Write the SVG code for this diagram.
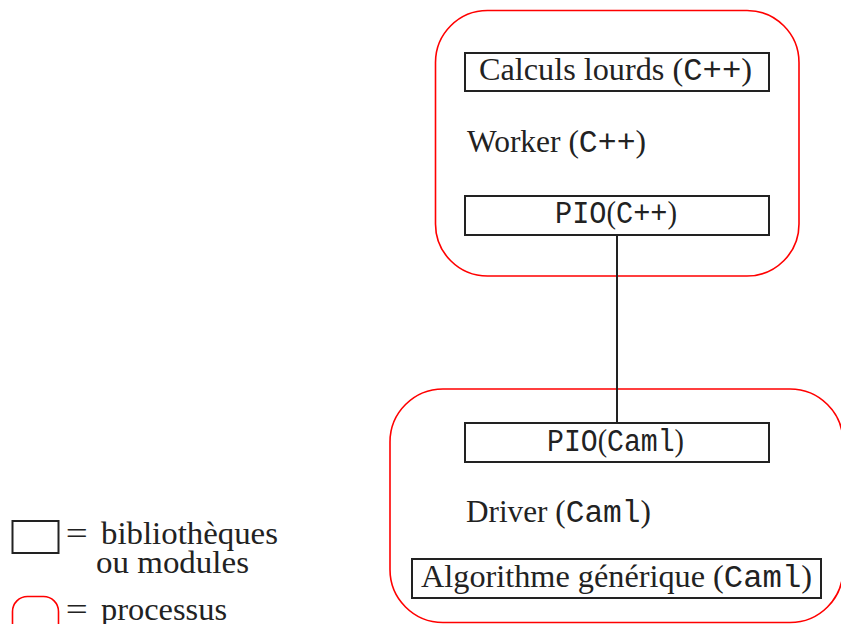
<svg xmlns="http://www.w3.org/2000/svg" width="841" height="624" viewBox="0 0 841 624">
<style>
.proc{fill:none;stroke:#ff0000;stroke-width:1.6}
.box{fill:none;stroke:#222;stroke-width:2}
.t{font-family:"Liberation Serif","Times New Roman",serif;font-size:31px;fill:#222}
.tt{font-family:"Liberation Mono","Courier New",monospace}
.conn{stroke:#222;stroke-width:2;fill:none}
</style>
<rect width="841" height="624" fill="#fff"/>
<g id="worker">
<rect class="proc" x="435.5" y="10.5" width="363.5" height="265.5" rx="52" ry="52"/>
<text class="t" x="467" y="152" textLength="179" lengthAdjust="spacingAndGlyphs">Worker (<tspan class="tt">C++</tspan>)</text>
</g>
<g id="calculs">
<rect class="box" x="465" y="53" width="304" height="38"/>
<text class="t" x="479" y="80" textLength="273" lengthAdjust="spacingAndGlyphs">Calculs lourds (<tspan class="tt">C++</tspan>)</text>
</g>
<g id="pio-cpp">
<rect class="box" x="465" y="196" width="304" height="39"/>
<text class="t" x="555" y="223" textLength="122" lengthAdjust="spacingAndGlyphs"><tspan class="tt">PIO</tspan>(<tspan class="tt">C++</tspan>)</text>
</g>
<g id="driver">
<rect class="proc" x="390" y="389" width="453" height="233.5" rx="53" ry="53"/>
<text class="t" x="466" y="522" textLength="185" lengthAdjust="spacingAndGlyphs">Driver (<tspan class="tt">Caml</tspan>)</text>
</g>
<g id="pio-caml">
<rect class="box" x="465" y="423" width="304" height="39"/>
<text class="t" x="547" y="451" textLength="137" lengthAdjust="spacingAndGlyphs"><tspan class="tt">PIO</tspan>(<tspan class="tt">Caml</tspan>)</text>
</g>
<g id="algorithme">
<rect class="box" x="412" y="559" width="409" height="39"/>
<text class="t" x="421" y="587" textLength="391" lengthAdjust="spacingAndGlyphs">Algorithme générique (<tspan class="tt">Caml</tspan>)</text>
</g>
<g id="connectors">
<line class="conn" x1="617" y1="235" x2="617" y2="423"/>
</g>
<g id="legend">
<rect class="box" x="12.5" y="521" width="46" height="32"/>
<text class="t" x="65.7" y="544" textLength="22" lengthAdjust="spacingAndGlyphs">=</text>
<text class="t" x="101" y="544" textLength="177" lengthAdjust="spacingAndGlyphs">bibliothèques</text>
<text class="t" x="96" y="573" textLength="153" lengthAdjust="spacingAndGlyphs">ou modules</text>
<rect class="proc" x="12.5" y="596.5" width="46" height="50" rx="15" ry="15"/>
<text class="t" x="65.7" y="620" textLength="22" lengthAdjust="spacingAndGlyphs">=</text>
<text class="t" x="101" y="620" textLength="126" lengthAdjust="spacingAndGlyphs">processus</text>
</g>
</svg>
